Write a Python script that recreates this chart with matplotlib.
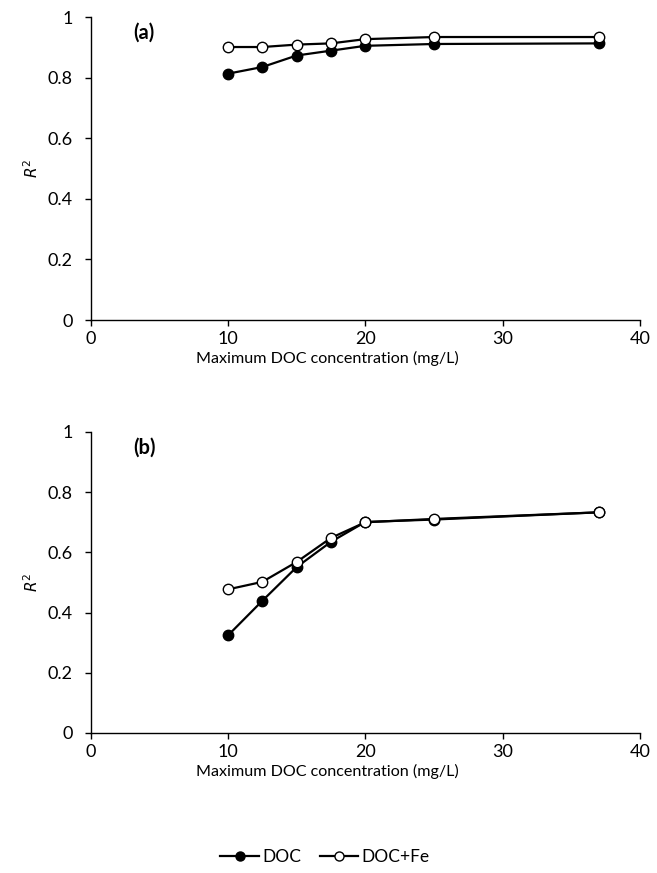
import matplotlib.pyplot as plt
from matplotlib.lines import Line2D

plt.rcParams['font.family'] = ['Lato', 'DejaVu Sans']

# data
x_conc = [10, 12.5, 15, 17.5, 20, 25, 37]
doc_a = [0.813, 0.835, 0.873, 0.889, 0.905, 0.911, 0.913]
docfe_a = [0.901, 0.901, 0.909, 0.913, 0.927, 0.934, 0.934]
doc_b = [0.324, 0.439, 0.551, 0.635, 0.701, 0.709, 0.733]
docfe_b = [0.477, 0.502, 0.568, 0.648, 0.700, 0.711, 0.733]

yticks = [0, 0.2, 0.4, 0.6, 0.8, 1]
ytick_labels = ["0", "0.2", "0.4", "0.6", "0.8", "1"]
xticks = [0, 10, 20, 30, 40]

fig = plt.figure(figsize=(6.57, 8.73), dpi=100)
ax_a = fig.add_axes([0.138, 0.6334, 0.836, 0.3471])
ax_b = fig.add_axes([0.138, 0.1604, 0.836, 0.3448])


def draw_panel(ax, doc, docfe, tag):
    ax.plot(x_conc, doc, color='black', lw=1.6, marker='o', ms=7.5,
            mfc='black', mec='black', zorder=3)
    ax.plot(x_conc, docfe, color='black', lw=1.6, marker='o', ms=7.5,
            mfc='white', mec='black', mew=1.0, zorder=4)
    ax.set_xlim(0, 40)
    ax.set_ylim(0, 1)
    ax.set_xticks(xticks)
    ax.set_yticks(yticks)
    ax.set_yticklabels(ytick_labels)
    ax.spines['top'].set_visible(False)
    ax.spines['right'].set_visible(False)
    ax.spines['left'].set_linewidth(1.0)
    ax.spines['bottom'].set_linewidth(1.0)
    ax.tick_params(direction='out', length=4, width=1.0, labelsize=13)
    ax.tick_params(axis='x', pad=4)
    ax.tick_params(axis='y', pad=9)
    ax.set_xlabel("Maximum DOC concentration (mg/L)", fontsize=11.6,
                  labelpad=3, x=0.431)
    ax.set_ylabel(r"$R^2$", fontsize=11, family='serif', labelpad=5)
    ax.text(0.077, 0.98, tag, transform=ax.transAxes, fontsize=14.5,
            fontweight='bold', va='top', ha='left')


draw_panel(ax_a, doc_a, docfe_a, "(a)")
draw_panel(ax_b, doc_b, docfe_b, "(b)")

handles = [
    Line2D([], [], color='black', lw=1.6, marker='o', ms=6.5, mfc='black', mec='black'),
    Line2D([], [], color='black', lw=1.6, marker='o', ms=6.5, mfc='white', mec='black'),
]
fig.legend(handles, ["DOC", "DOC+Fe"], loc='center', bbox_to_anchor=(0.495, 0.018),
           ncol=2, frameon=False, fontsize=12.5, handlelength=2.2, handletextpad=0.2,
           columnspacing=1.1)

fig.savefig("out.png", dpi=100)
